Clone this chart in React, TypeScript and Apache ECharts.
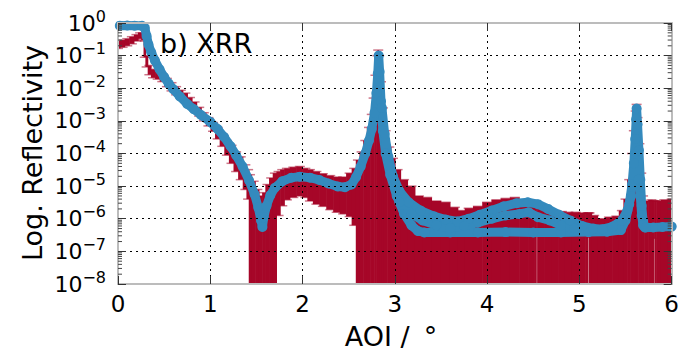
import React, { useEffect, useRef } from 'react';
import * as echarts from 'echarts';

const BLUE = '#348ABD';
const RED = '#A60628';
const FONT = '"DejaVu Sans", "Liberation Sans", sans-serif';

const xTicks = [0, 1, 2, 3, 4, 5, 6];
const yExponents = ['0', '\u22121', '\u22122', '\u22123', '\u22124', '\u22125', '\u22126', '\u22127', '\u22128'];

// measured data (red, with error bars). lo = 0 means the bar reaches below the axis.
const redX = [0.00, 0.05, 0.10, 0.15, 0.20, 0.24, 0.27, 0.29, 0.31, 0.34, 0.38, 0.43, 0.48, 0.53, 0.58, 0.63, 0.68, 0.73, 0.78, 0.83, 0.88, 0.93, 0.98, 1.03, 1.08, 1.13, 1.18, 1.23, 1.28, 1.33, 1.38, 1.41, 1.43, 1.47, 1.51, 1.55, 1.58, 1.62, 1.66, 1.70, 1.74, 1.78, 1.83, 1.90, 1.97, 2.03, 2.08, 2.15, 2.22, 2.30, 2.37, 2.44, 2.51, 2.56, 2.60, 2.64, 2.68, 2.72, 2.75, 2.77, 2.79, 2.81, 2.82, 2.83, 2.85, 2.87, 2.90, 2.94, 2.98, 3.03, 3.10, 3.18, 3.26, 3.35, 3.45, 3.55, 3.65, 3.72, 3.80, 3.90, 4.00, 4.10, 4.20, 4.30, 4.40, 4.50, 4.53, 4.54, 4.55, 4.58, 4.66, 4.74, 4.81, 4.88, 4.96, 5.04, 5.09, 5.10, 5.11, 5.16, 5.24, 5.32, 5.40, 5.46, 5.50, 5.54, 5.57, 5.59, 5.61, 5.62, 5.63, 5.65, 5.67, 5.69, 5.72, 5.78, 5.80, 5.81, 5.82, 5.85, 5.92, 6.00];
const redY = [0.22, 0.24, 0.26, 0.30, 0.35, 0.42, 0.40, 0.14, 0.063, 0.038, 0.028, 0.025, 0.021, 0.015, 0.0112, 0.0085, 0.0066, 0.0052, 0.004, 0.0028, 0.0019, 0.0013, 0.00095, 0.00066, 0.00042, 0.00026, 0.000158, 0.0001, 6.3e-5, 4.0e-5, 2.24e-5, 1.41e-5, 1e-5, 6.3e-6, 3.2e-6, 1.58e-6, 2.5e-6, 5.0e-6, 7.9e-6, 1e-5, 1e-5, 1.12e-5, 1.26e-5, 1.41e-5, 1.51e-5, 1.41e-5, 1.32e-5, 1.2e-5, 1.05e-5, 9.5e-6, 8.9e-6, 8.9e-6, 1e-5, 1.41e-5, 2.5e-5, 5.0e-5, 0.000126, 0.00032, 0.00079, 0.0025, 0.01, 0.04, 0.1, 0.05, 0.0063, 0.001, 0.0002, 6.3e-5, 2.5e-5, 1.26e-5, 7.1e-6, 4.5e-6, 2.5e-6, 2.0e-6, 1.58e-6, 1.41e-6, 1.12e-6, 1e-6, 1.12e-6, 1.26e-6, 1.51e-6, 1.78e-6, 2.0e-6, 2.1e-6, 1.78e-6, 1.41e-6, 1.3e-6, 6.3e-7, 1.3e-6, 1.26e-6, 1.12e-6, 1e-6, 7.9e-7, 8.9e-7, 8.9e-7, 8.3e-7, 8.3e-7, 5.0e-7, 8.3e-7, 7.9e-7, 6.3e-7, 7.1e-7, 7.9e-7, 1e-6, 2.0e-6, 6.3e-6, 3.2e-5, 0.000158, 0.00079, 0.00158, 0.0005, 6.3e-5, 1e-5, 2.5e-6, 1.58e-6, 1.51e-6, 1.5e-6, 5.0e-7, 1.5e-6, 1.41e-6, 1.41e-6, 1.41e-6];
const redLo = [0.166, 0.18, 0.20, 0.23, 0.28, 0.33, 0.30, 0.089, 0.045, 0.026, 0.021, 0.019, 0.016, 0.0112, 0.0083, 0.0063, 0.005, 0.004, 0.003, 0.0021, 0.0014, 0.001, 0.0007, 0.00048, 0.00028, 0.000166, 8.9e-5, 5.0e-5, 2.8e-5, 1.58e-5, 7.9e-6, 4.0e-6, 0, 0, 0, 0, 0, 0, 0, 0, 1.26e-6, 2.5e-6, 3.8e-6, 4.5e-6, 5.0e-6, 4.5e-6, 3.5e-6, 2.8e-6, 2.4e-6, 1.9e-6, 1.58e-6, 1.41e-6, 1.17e-6, 6.3e-7, 0, 0, 0, 0, 0, 0, 0, 0, 0, 0, 0, 0, 0, 0, 0, 0, 0, 0, 0, 0, 0, 0, 0, 0, 0, 0, 0, 0, 0, 0, 0, 0, 0, 3.8e-7, 0, 0, 0, 0, 0, 0, 0, 0, 0, 2.7e-7, 0, 0, 0, 0, 0, 0, 0, 0, 0, 0, 0, 0, 0, 0, 0, 0, 0, 0, 0, 2.5e-7, 0, 0, 0, 0];
const redHi = [0.28, 0.30, 0.33, 0.38, 0.44, 0.50, 0.50, 0.28, 0.10, 0.050, 0.038, 0.033, 0.028, 0.020, 0.0148, 0.0112, 0.0087, 0.0071, 0.0052, 0.0038, 0.0026, 0.00178, 0.00126, 0.00089, 0.00063, 0.0004, 0.00025, 0.000178, 0.000112, 7.9e-5, 4.5e-5, 3.2e-5, 2.24e-5, 1.41e-5, 7.9e-6, 5.0e-6, 6.3e-6, 1.12e-5, 1.78e-5, 2.5e-5, 2.8e-5, 3.2e-5, 3.5e-5, 3.8e-5, 4.0e-5, 3.5e-5, 3.2e-5, 2.8e-5, 2.4e-5, 2.1e-5, 1.9e-5, 1.9e-5, 2.5e-5, 3.5e-5, 6.3e-5, 0.000112, 0.00025, 0.00063, 0.00158, 0.005, 0.025, 0.1, 0.148, 0.1, 0.0158, 0.0025, 0.0005, 0.000158, 7.1e-5, 3.2e-5, 1.58e-5, 1e-5, 5.0e-6, 4.5e-6, 3.5e-6, 3.2e-6, 2.24e-6, 1.78e-6, 2.1e-6, 2.4e-6, 3.2e-6, 3.8e-6, 4.2e-6, 4.5e-6, 3.8e-6, 3.0e-6, 2.8e-6, 2.7e-6, 2.6e-6, 2.5e-6, 2.1e-6, 1.78e-6, 1.66e-6, 1.58e-6, 1.58e-6, 1.51e-6, 1.51e-6, 1.51e-6, 1.51e-6, 1.26e-6, 1e-6, 1.12e-6, 1.2e-6, 1.78e-6, 4.0e-6, 1.58e-5, 0.0001, 0.0005, 0.002, 0.0032, 0.00126, 0.0002, 2.5e-5, 5.0e-6, 3.5e-6, 3.8e-6, 3.6e-6, 3.5e-6, 3.5e-6, 3.5e-6, 3.8e-6, 4.0e-6];

// fit curves (blue)
const blueMain = [[0.02, 0.83], [0.10, 0.84], [0.18, 0.83], [0.26, 0.82], [0.29, 0.71], [0.31, 0.40], [0.33, 0.22], [0.36, 0.126], [0.40, 0.071], [0.45, 0.038], [0.50, 0.022], [0.55, 0.0138], [0.60, 0.0093], [0.67, 0.0056], [0.75, 0.0033], [0.82, 0.0023], [0.90, 0.00151], [1.00, 0.00093], [1.08, 0.00056], [1.15, 0.00032], [1.22, 0.000166], [1.28, 8.9e-5], [1.35, 4.0e-5], [1.42, 1.5e-5], [1.48, 5.6e-6], [1.52, 2.2e-6], [1.55, 8.9e-7], [1.565, 5.6e-7], [1.58, 1.12e-6], [1.61, 2.5e-6], [1.65, 5.2e-6], [1.70, 8.9e-6], [1.78, 1.41e-5], [1.88, 1.82e-5], [1.97, 1.95e-5], [2.08, 1.82e-5], [2.18, 1.55e-5], [2.28, 1.2e-5], [2.38, 9.8e-6], [2.46, 9.3e-6], [2.53, 1.12e-5], [2.58, 1.9e-5], [2.63, 4.0e-5], [2.68, 1e-4], [2.72, 2.5e-4], [2.75, 5.6e-4], [2.78, 0.00178], [2.80, 0.0071], [2.815, 0.028], [2.825, 0.1], [2.835, 0.032], [2.85, 0.004], [2.87, 0.0005], [2.90, 1e-4], [2.95, 2.24e-5], [3.02, 5.0e-6], [3.10, 1.41e-6], [3.18, 6.3e-7], [3.25, 4.2e-7], [3.32, 3.8e-7], [3.6, 3.8e-7], [3.9, 3.8e-7], [4.2, 3.9e-7], [4.5, 3.8e-7], [4.8, 3.8e-7], [5.1, 3.9e-7], [5.3, 4.0e-7], [5.45, 4.5e-7], [5.50, 8.9e-7], [5.54, 2.8e-6], [5.57, 1.12e-5], [5.59, 5.0e-5], [5.605, 2.8e-4], [5.615, 0.00112], [5.62, 0.0024], [5.63, 0.00079], [5.645, 0.000126], [5.66, 1.58e-5], [5.675, 2.5e-6], [5.69, 8.9e-7], [5.71, 5.4e-7], [5.80, 5.4e-7], [5.90, 5.6e-7], [6.00, 5.75e-7]];
const blueUpper = [[2.86, 0.0025], [2.89, 0.0004], [2.93, 7.9e-5], [2.98, 2.0e-5], [3.05, 7.1e-6], [3.15, 3.2e-6], [3.28, 1.78e-6], [3.42, 1.2e-6], [3.55, 9.5e-7], [3.68, 8.3e-7], [3.80, 1e-6], [3.92, 1.32e-6], [4.05, 1.78e-6], [4.18, 2.4e-6], [4.32, 3.0e-6], [4.44, 3.2e-6], [4.55, 2.8e-6], [4.66, 2.0e-6], [4.78, 1.32e-6], [4.90, 8.9e-7], [5.03, 6.0e-7], [5.15, 5.0e-7], [5.25, 4.8e-7], [5.36, 5.75e-7], [5.46, 8.9e-7], [5.52, 1.78e-6], [5.56, 5.0e-6]];
const blueMiddle = [[3.05, 3.2e-6], [3.18, 1.41e-6], [3.30, 8.9e-7], [3.45, 6.3e-7], [3.60, 5.2e-7], [3.75, 6.0e-7], [3.90, 7.6e-7], [4.05, 1e-6], [4.20, 1.26e-6], [4.35, 1.41e-6], [4.45, 1.58e-6], [4.55, 1.12e-6], [4.68, 8.9e-7], [4.80, 6.3e-7], [4.95, 5.0e-7]];
const blueTail = [[5.64, 1.58e-5], [5.66, 5.0e-6], [5.675, 1.26e-6], [5.69, 6.3e-7], [5.72, 5.4e-7]];

// log minor tick positions (axis decoration)
const minorTicks: number[] = [];
for (let e = -8; e < 0; e++) for (let k = 2; k <= 9; k++) minorTicks.push(k * Math.pow(10, e));

function blueSeries(name: string, data: number[][]) {
  return {
    name,
    type: 'line',
    data,
    symbol: 'circle',
    symbolSize: 10,
    showSymbol: true,
    lineStyle: { color: BLUE, width: 9, cap: 'round', join: 'round' },
    itemStyle: { color: BLUE },
    z: 3,
    silent: true,
  };
}

export default function App() {
  const ref = useRef<HTMLDivElement>(null);
  useEffect(() => {
    if (!ref.current) return;
    const chart = echarts.init(ref.current, null, { renderer: 'svg' });
    const axisLine = { show: true, onZero: false, lineStyle: { color: '#bcbcbc', width: 2 } };
    const tick = { show: true, inside: true, length: 8, lineStyle: { color: '#333', width: 1 } };
    const split = { show: true, lineStyle: { color: '#000', type: [2, 4], width: 1 } };
    const option: any = {
      animation: false,
      grid: { left: 118, right: 10, top: 23, bottom: 70, containLabel: false },
      xAxis: [
        {
          type: 'value', min: 0, max: 6, interval: 1, position: 'bottom', z: 5,
          axisLine, axisTick: tick, splitLine: split,
          axisLabel: { fontSize: 23, fontFamily: FONT, color: '#000', margin: 8, formatter: (v: number) => String(xTicks[Math.round(v)]) },
        },
        {
          type: 'value', min: 0, max: 6, interval: 1, position: 'top', z: 5,
          axisLine, axisTick: tick, splitLine: { show: false }, axisLabel: { show: false },
        },
      ],
      yAxis: [
        {
          type: 'log', logBase: 10, min: 1e-8, max: 1, interval: 1, splitNumber: 8, position: 'left', z: 5,
          axisLine, axisTick: tick, splitLine: split, minorTick: { show: false },
          axisLabel: {
            margin: 12,
            formatter: (v: number) => {
              const e = Math.round(Math.log10(v));
              return '{b|10}{s|' + yExponents[-e] + '}';
            },
            rich: {
              b: { fontSize: 22, fontFamily: FONT, color: '#000', lineHeight: 30 },
              s: { fontSize: 16, fontFamily: FONT, color: '#000', lineHeight: 16, verticalAlign: 'top' },
            },
          },
        },
        {
          type: 'log', logBase: 10, min: 1e-8, max: 1, interval: 1, splitNumber: 8, position: 'right', z: 5,
          axisLine, axisTick: tick, splitLine: { show: false }, axisLabel: { show: false },
        },
      ],
      graphic: [
        { type: 'text', left: 160, top: 30, style: { text: 'b) XRR', fontSize: 27, fontFamily: FONT, fill: '#000' }, z: 20 },
        {
          type: 'text', x: 32, y: 153, rotation: Math.PI / 2,
          style: { text: 'Log. Reflectivity', fontSize: 27, fontFamily: FONT, fill: '#000', align: 'center', verticalAlign: 'middle' },
        },
        {
          type: 'text', x: 391, y: 336,
          style: {
            text: '{a|AOI /}{d|\u00b0}', align: 'center', verticalAlign: 'middle',
            rich: {
              a: { fontSize: 27, fontFamily: FONT, fill: '#000', color: '#000' },
              d: { fontSize: 27, fontFamily: FONT, fill: '#000', color: '#000', padding: [0, 0, 0, 14] },
            },
          },
        },
      ],
      series: [
        {
          name: 'data',
          type: 'custom',
          xAxisIndex: 0, yAxisIndex: 0,
          data: redX.map((x, i) => [x, redY[i]]),
          clip: true,
          z: 1,
          silent: true,
          renderItem: (params: any, api: any) => {
            const i = params.dataIndex;
            const cs = params.coordSys;
            const x = redX[i];
            const px = api.coord([x, redY[i]])[0];
            const prev = i > 0 ? api.coord([redX[i - 1], redY[i]])[0] : null;
            const next = i < redX.length - 1 ? api.coord([redX[i + 1], redY[i]])[0] : null;
            let left = prev != null ? (prev + px) / 2 : px - ((next as number) - px) / 2;
            let right = next != null ? (next + px) / 2 : px + (px - (prev as number)) / 2;
            left = Math.max(left, cs.x);
            right = Math.min(right, cs.x + cs.width);
            const bottom = cs.y + cs.height;
            const top = Math.max(api.coord([x, redHi[i]])[1], cs.y);
            const lo = redLo[i] > 0 ? Math.min(api.coord([x, redLo[i]])[1], bottom) : bottom;
            const children: any[] = [
              { type: 'rect', shape: { x: left - 0.3, y: top, width: right - left + 0.6, height: lo - top }, style: { fill: RED } },
              { type: 'line', shape: { x1: px - 5, y1: top, x2: px + 5, y2: top }, style: { stroke: RED, lineWidth: 1.5, opacity: 0.55 } },
            ];
            if (redLo[i] > 0) {
              children.push({ type: 'line', shape: { x1: px - 5, y1: lo, x2: px + 5, y2: lo }, style: { stroke: RED, lineWidth: 1.5, opacity: 0.55 } });
            }
            return { type: 'group', children };
          },
        },
        blueSeries('fit', blueMain),
        blueSeries('fit b', blueUpper),
        blueSeries('fit c', blueMiddle),
        blueSeries('fit d', blueTail),
        {
          name: 'minor ticks',
          type: 'custom',
          data: [[1, 0.1]],
          z: 6,
          silent: true,
          renderItem: (params: any, api: any) => {
            const cs = params.coordSys;
            const children: any[] = [];
            minorTicks.forEach((v) => {
              const y = api.coord([0, v])[1];
              children.push({ type: 'line', shape: { x1: cs.x, y1: y, x2: cs.x + 4, y2: y }, style: { stroke: '#444', lineWidth: 1 } });
              children.push({ type: 'line', shape: { x1: cs.x + cs.width - 4, y1: y, x2: cs.x + cs.width, y2: y }, style: { stroke: '#444', lineWidth: 1 } });
            });
            return { type: 'group', children };
          },
        },
      ],
    };
    chart.setOption(option);
    return () => chart.dispose();
  }, []);
  return <div ref={ref} style={{ position: 'absolute', left: 0, top: 0, width: 682, height: 354 }} />;
}
